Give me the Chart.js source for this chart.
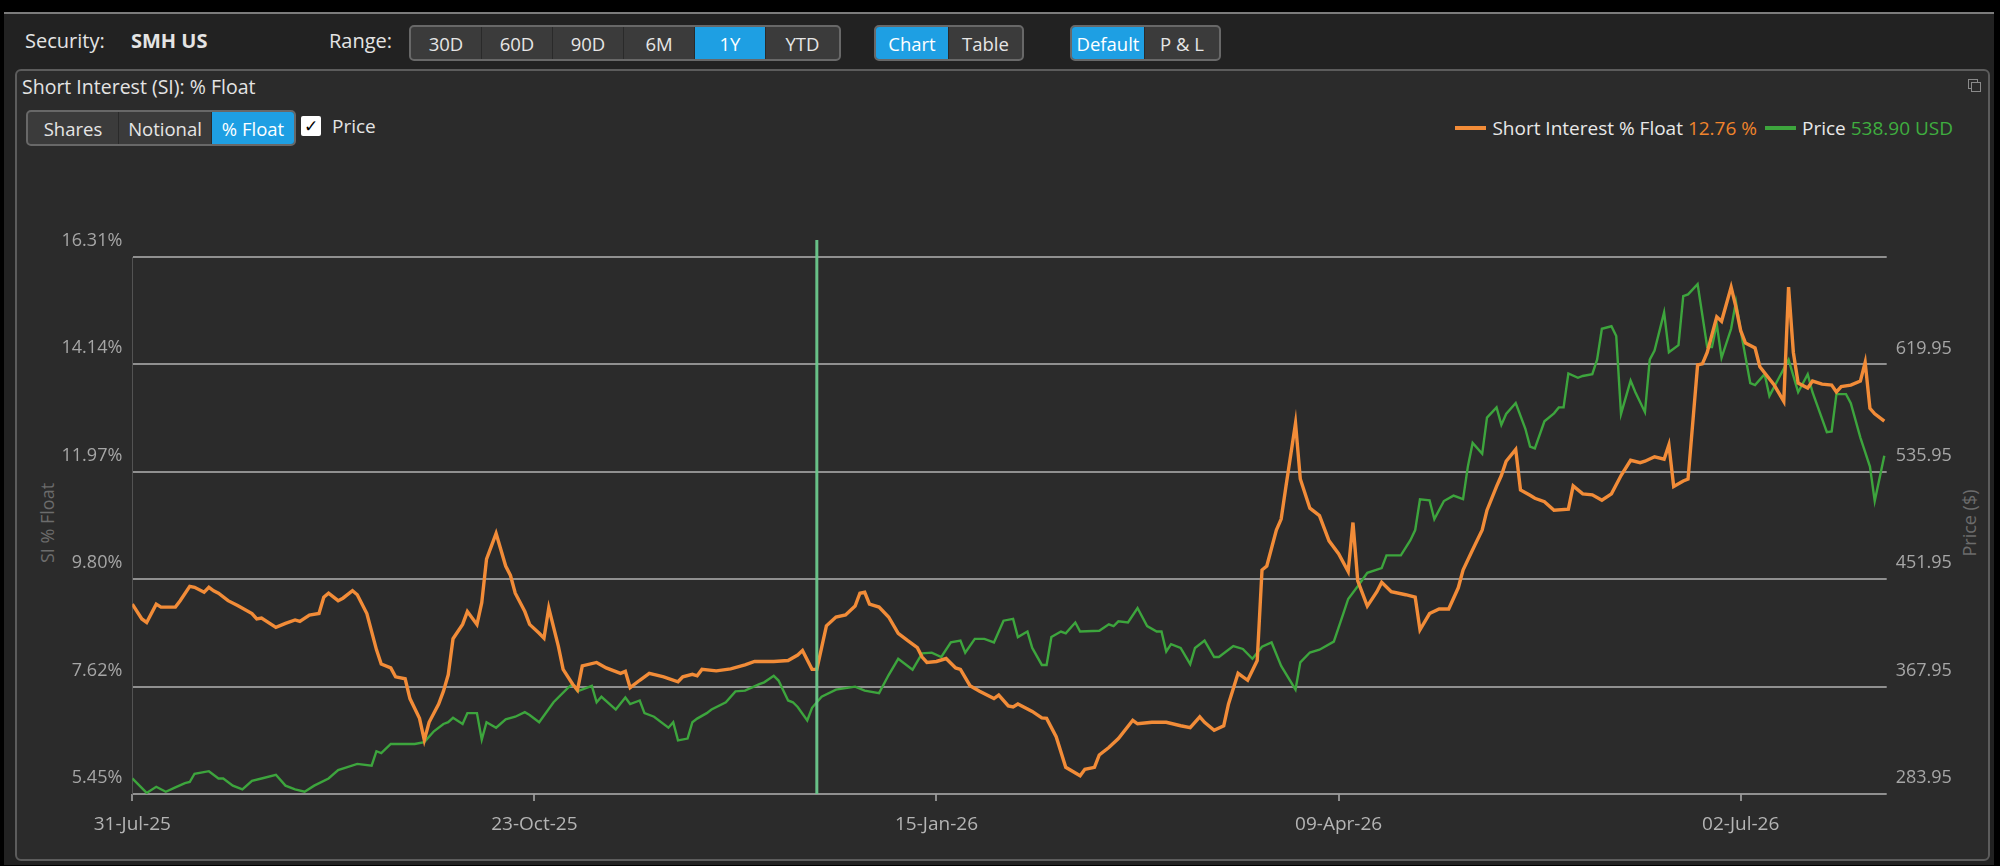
<!DOCTYPE html>
<html>
<head>
<meta charset="utf-8">
<script src="https://cdn.jsdelivr.net/npm/chart.js@4.4.1/dist/chart.umd.min.js"></script>
<style>
  html, body { margin: 0; padding: 0; width: 2000px; height: 866px; overflow: hidden; background: #000; font-family: 'Open Sans', 'Noto Sans', sans-serif; }
  .abs { position: absolute; }
  #app { left: 4px; top: 12px; width: 1990px; height: 851px; background: #222; border-top: 2px solid #7c7c7c; }
  .lbl { color: #e4e4e4; font-size: 20px; line-height: 26px; white-space: nowrap; }
  .grp { display: flex; height: 32px; border: 2px solid #686868; border-radius: 5px; overflow: hidden; background: #3b3b3b; }
  .grp div { display: flex; align-items: center; justify-content: center; color: #e6e6e6; font-size: 18.5px; border-right: 1px solid #2a2a2a; box-sizing: border-box; }
  .grp div:last-child { border-right: none; }
  .grp div.on { background: #1e9fe3; color: #fff; }
  #panel { left: 15px; top: 69px; width: 1971px; height: 788px; border: 2px solid #5c5c5c; border-radius: 6px; background: #2b2b2b; }
  #chartBox { left: 16px; top: 150px; width: 1972px; height: 705px; }
  #legend { right: 47px; top: 115px; display: flex; align-items: center; font-size: 19px; color: #e8e8e8; white-space: nowrap; }
  #legend .sw { width: 31px; height: 4px; margin-right: 6px; }
  .axTitle { color: #6c6c6c; font-size: 18px; white-space: nowrap; transform: translate(-50%, -50%) rotate(-90deg); }
</style>
</head>
<body>
<div id="app" class="abs"></div>

<div class="abs lbl" style="left:25px; top:28px;">Security:</div>
<div class="abs lbl" style="left:131px; top:28px; font-weight:bold;">SMH US</div>
<div class="abs lbl" style="left:329px; top:28px;">Range:</div>

<div class="abs grp" style="left:409px; top:25px; width:428px;">
  <div style="width:71px">30D</div><div style="width:71px">60D</div><div style="width:71px">90D</div>
  <div style="width:71px">6M</div><div class="on" style="width:71px">1Y</div><div style="width:73px">YTD</div>
</div>
<div class="abs grp" style="left:874px; top:25px; width:146px;">
  <div class="on" style="width:73px">Chart</div><div style="width:73px">Table</div>
</div>
<div class="abs grp" style="left:1070px; top:25px; width:147px;">
  <div class="on" style="width:73px">Default</div><div style="width:74px">P &amp; L</div>
</div>

<div id="panel" class="abs"></div>
<div class="abs lbl" style="left:22px; top:74px; font-size:19.5px;">Short Interest (SI): % Float</div>
<div class="abs grp" style="left:26px; top:110px; width:266px;">
  <div style="width:91px">Shares</div><div style="width:93px">Notional</div><div class="on" style="width:82px">% Float</div>
</div>
<div class="abs" style="left:301px; top:116px; width:20px; height:20px; background:#fff; border-radius:2px; color:#000; font:bold 17px 'DejaVu Sans'; line-height:20px; text-align:center;">✓</div>
<div class="abs lbl" style="left:332px; top:113px; font-size:19px;">Price</div>

<div class="abs" style="left:1968px; top:79px; width:8px; height:8px; border:1.5px solid #8a8a8a;"></div>
<div class="abs" style="left:1971px; top:82px; width:8px; height:8px; border:1.5px solid #8a8a8a; background:#2b2b2b;"></div>

<div id="legend" class="abs">
  <span class="sw" style="background:#f28c38"></span><span>Short Interest % Float&nbsp;</span><span style="color:#f0842c">12.76 %</span>
  <span class="sw" style="background:#3da53d; margin-left:8px"></span><span>Price&nbsp;</span><span style="color:#3fae3f">538.90 USD</span>
</div>

<div class="abs axTitle" style="left:47px; top:523px;">SI % Float</div>
<div class="abs axTitle" style="left:1969px; top:523px;">Price ($)</div>

<div id="chartBox" class="abs"><canvas id="siChart"></canvas></div>

<script>
// days counted from 31-Jul-25
const startDate = Date.UTC(2025, 6, 31);

const siDays = [0, 2, 3, 5, 6, 9, 10, 12, 13, 15, 16, 17, 18, 20, 22, 25, 26, 27, 30, 32, 34, 35, 37, 39, 40, 41, 43, 44, 46, 47, 49,
  51, 52, 54, 55, 57, 58, 60, 61, 62, 64, 65, 66, 67, 69, 70, 72, 73, 74, 76, 78, 79, 80, 82, 83, 85, 86, 87, 89, 90, 92, 93, 94, 97, 99,
  102, 103, 104, 106, 108, 111, 114, 115, 117, 118, 119, 122, 125, 128, 130, 134, 137, 139, 140, 142, 143, 144, 145, 147, 149,
  151, 152, 153, 154, 156, 158, 160, 162, 164, 165, 166, 168, 170, 172, 173, 175, 177, 180, 181, 183, 184, 185, 188, 190, 191, 193, 195, 198, 199,
  201, 202, 204, 206, 209, 210, 213, 216, 219, 221, 223, 224, 226, 228, 229, 231, 233, 235, 236, 237, 239, 240, 241, 243, 244, 246, 248, 250,
  252, 254, 255, 256, 258, 260, 261, 263, 266, 268, 269, 271, 273, 275, 277, 278, 280, 282, 283, 285, 286, 287, 289, 290, 292, 293, 295, 297,
  300, 301, 303, 305, 307, 309, 311, 313, 315, 316, 318, 320, 321, 322, 324, 325, 327, 328, 329, 331, 332, 334, 335, 336, 337, 339, 340, 343, 345, 346, 347, 348,
  350, 351, 353, 355, 356, 357, 359, 361, 362, 363, 364, 366];
const siValues = [9.29, 8.99, 8.92, 9.29, 9.23, 9.23, 9.36, 9.65, 9.63, 9.53, 9.63, 9.56, 9.51, 9.36, 9.26, 9.10, 8.99, 9.01, 8.82, 8.90, 8.97, 8.94, 9.07, 9.10, 9.43, 9.51, 9.36, 9.41, 9.56, 9.48, 9.10,
  8.37, 8.08, 8.00, 7.82, 7.78, 7.38, 6.98, 6.54, 6.90, 7.27, 7.53, 7.86, 8.59, 8.88, 9.14, 8.88, 9.32, 10.20, 10.72, 10.06, 9.87, 9.51, 9.14, 8.88, 8.70, 8.60, 9.21, 8.44, 7.97, 7.67, 7.55, 8.04, 8.11, 8.00,
  7.89, 7.93, 7.60, 7.75, 7.89, 7.82, 7.72, 7.82, 7.87, 7.84, 7.97, 7.94, 7.98, 8.06, 8.13, 8.13, 8.15, 8.26, 8.35, 7.97, 7.97, 8.41, 8.85, 9.03, 9.07,
  9.25, 9.51, 9.53, 9.29, 9.23, 9.03, 8.70, 8.55, 8.41, 8.22, 8.11, 8.13, 8.19, 8.00, 7.97, 7.64, 7.53, 7.38, 7.45, 7.23, 7.21, 7.27, 7.12, 6.99, 6.98, 6.61, 5.99, 5.82, 5.95,
  5.99, 6.24, 6.39, 6.57, 6.94, 6.87, 6.90, 6.90, 6.83, 6.79, 7.01, 6.90, 6.74, 6.83, 7.27, 7.89, 7.75, 8.15, 9.98, 10.06, 10.79, 11.01, 11.67, 12.95, 11.82, 11.23, 11.08, 10.57,
  10.31, 9.95, 10.94, 9.76, 9.25, 9.54, 9.73, 9.54, 9.48, 9.43, 8.77, 9.10, 9.19, 9.19, 9.62, 9.98, 10.39, 10.79, 11.19, 11.67, 11.89, 12.18, 12.42, 11.60, 11.49, 11.43, 11.36, 11.19,
  11.21, 11.68, 11.52, 11.50, 11.39, 11.52, 11.89, 12.20, 12.15, 12.18, 12.27, 12.22, 12.51, 11.67, 11.78, 11.82, 14.13, 14.15, 14.38, 15.10, 15.01, 15.70, 15.30, 14.82, 14.57, 14.47, 14.09, 13.72, 13.39, 15.70, 14.38, 13.76,
  13.66, 13.80, 13.74, 13.72, 13.58, 13.69, 13.72, 13.80, 14.18, 13.25, 13.14, 12.99];

const priceDays = [0, 3, 5, 7, 9, 11, 12, 13, 16, 18, 19, 21, 23, 25, 27, 30, 32, 34, 36, 38, 41, 43, 47, 50, 51, 52, 54, 57, 59, 61, 63, 65, 66, 67, 69, 70,
  72, 73, 74, 76, 78, 80, 82, 83, 85, 88, 91, 92, 93, 96, 97, 98, 101, 103, 104, 106, 107, 109, 112, 113, 114, 116, 117, 118, 120, 121, 124, 126, 128,
  131, 132, 134, 135, 137, 138, 139, 141, 142, 144, 147, 151, 153, 156, 158, 160, 163, 165, 167, 169, 171, 173, 174, 176, 178, 180, 182, 184, 185, 187, 188,
  190, 191, 192, 194, 195, 197, 198, 202, 204, 205, 206, 208, 210, 212, 214, 215, 216, 217, 219, 221, 222, 224, 226, 227, 230, 232, 234, 236, 238, 240,
  243, 244, 246, 248, 251, 253, 254, 256, 258, 261, 262, 265, 267, 268, 269, 271, 272, 274, 276, 278, 279, 280, 282, 283, 285, 286, 287, 289,
  291, 292, 293, 295, 297, 298, 299, 300, 302, 303, 305, 306, 307, 309, 310, 311, 313, 314, 316, 317, 318, 320, 321, 323, 324, 325, 327, 329,
  330, 331, 332, 334, 335, 336, 338, 339, 341, 342, 344, 346, 348, 350, 351, 354, 355, 356, 358, 359, 361, 363, 364, 366];
const priceValues = [296.1, 284.8, 289.6, 285.7, 289.1, 292.5, 293.3, 299.8, 301.8, 296.1, 296.1, 290.5, 287.6, 294.2, 296.1, 299.0, 290.5, 287.6, 285.7, 290.5, 296.1, 302.7, 307.5, 306.1, 317.4, 316.0, 323.1, 323.1, 323.1, 324.5, 333.0, 338.7, 340.1, 343.5, 338.7, 347.2,
  347.2, 326.5, 340.1, 335.8, 342.4, 344.4, 348.0, 345.8, 340.1, 355.7, 367.0, 369.9, 364.2, 368.5, 355.7, 360.0, 350.0, 359.4, 354.3, 357.1, 347.2, 344.4, 335.8, 340.1, 325.9, 327.3, 340.1, 342.9, 347.2, 350.0, 355.7, 364.2, 364.8,
  369.9, 371.3, 376.4, 372.7, 357.1, 355.7, 352.0, 341.5, 351.4, 360.0, 365.6, 367.9, 364.8, 362.8, 377.0, 389.7, 381.2, 394.0, 394.5, 391.1, 402.5, 403.9, 394.5, 405.3, 405.3, 402.5, 419.5, 420.9, 406.7, 411.0, 398.2,
  384.9, 384.9, 406.7, 411.0, 409.6, 418.1, 411.0, 411.6, 416.7, 415.3, 419.0, 418.1, 429.4, 415.3, 411.0, 411.0, 395.4, 401.1, 398.2, 385.5, 398.2, 403.9, 391.1, 391.1, 399.7, 397.4, 389.7, 399.1, 402.5, 384.1,
  365.6, 386.9, 394.6, 396.8, 403.1, 425.2, 436.5, 446.4, 456.9, 460.6, 470.6, 470.6, 482.5, 490.4, 514.5, 513.7, 498.9, 513.1, 517.3, 514.5, 540.0, 558.5, 550.0, 578.3, 586.3, 572.6, 581.2, 589.7,
  569.8, 555.6, 554.2, 575.5, 581.7, 586.3, 586.3, 612.9, 609.5, 610.9, 612.3, 623.7, 647.8, 649.8, 642.1, 581.2, 607.3, 598.2, 582.6, 623.7, 630.8, 660.6, 629.4, 635.0, 673.3, 674.7, 682.7, 633.6,
  633.6, 651.5, 625.1, 647.8, 669.1, 646.4, 605.3, 603.8, 612.3, 595.3, 609.5, 623.7, 598.2, 612.3, 598.2, 567.0, 567.5, 596.7, 596.7, 589.7, 562.7, 540.0, 513.1, 548.5];

const xTickDays = [0, 84, 168, 252, 336];
const siTicks = [5.45, 7.62, 9.80, 11.97, 14.14, 16.31];
const priceTicks = [283.95, 367.95, 451.95, 535.95, 619.95, 703.95];
const cursorDay = 143;

const months = ['Jan', 'Feb', 'Mar', 'Apr', 'May', 'Jun', 'Jul', 'Aug', 'Sep', 'Oct', 'Nov', 'Dec'];

function formatDay(v) {
    const d = new Date(startDate + v * 86400000);
    const dd = String(d.getUTCDate()).padStart(2, '0');
    const yy = String(d.getUTCFullYear()).slice(2);
    return dd + '-' + months[d.getUTCMonth()] + '-' + yy;
}

function toPoints(xs, ys) {
    return xs.map((x, i) => ({ x: x, y: ys[i] }));
}

// vertical cursor line
const cursorPlugin = {
    id: 'cursorLine',
    afterDatasetsDraw(chart) {
        const ctx = chart.ctx;
        const area = chart.chartArea;
        const x = chart.scales.x.getPixelForValue(cursorDay);
        ctx.save();
        ctx.strokeStyle = 'rgba(108, 200, 140, 0.95)';
        ctx.lineWidth = 3;
        ctx.beginPath();
        ctx.moveTo(x, area.top - 17);
        ctx.lineTo(x, area.bottom);
        ctx.stroke();
        ctx.restore();
    }
};

const tickFont = { family: "'Open Sans', sans-serif", size: 18 };

new Chart(document.getElementById('siChart').getContext('2d'), {
    type: 'line',
    data: {
        datasets: [{
            label: 'Short Interest % Float',
            data: toPoints(siDays, siValues),
            yAxisID: 'ySI',
            borderColor: '#f28c38',
            borderWidth: 3.4,
            pointRadius: 0,
            tension: 0
        }, {
            label: 'Price',
            data: toPoints(priceDays, priceValues),
            yAxisID: 'yPrice',
            borderColor: '#3da53d',
            borderWidth: 2.4,
            pointRadius: 0,
            tension: 0
        }]
    },
    options: {
        responsive: true,
        maintainAspectRatio: false,
        animation: false,
        layout: { padding: { top: 107, left: 0, right: 0, bottom: 0 } },
        plugins: {
            legend: { display: false },
            tooltip: { enabled: false }
        },
        scales: {
            x: {
                type: 'linear',
                min: 0,
                max: 366.5,
                afterBuildTicks: s => { s.ticks = xTickDays.map(v => ({ value: v })); },
                afterFit: s => { s.height = 61; },
                ticks: {
                    callback: v => formatDay(v),
                    color: '#b4b4b4',
                    font: { family: "'Open Sans', sans-serif", size: 19 },
                    padding: 12,
                    maxRotation: 0,
                    autoSkip: false
                },
                grid: { drawOnChartArea: false, drawTicks: true, tickLength: 7, color: '#8c8c8c', lineWidth: 2 },
                border: { display: false }
            },
            ySI: {
                position: 'left',
                min: siTicks[0],
                max: siTicks[siTicks.length - 1],
                afterBuildTicks: s => { s.ticks = siTicks.map(v => ({ value: v })); },
                afterFit: s => { s.width = 116.3; },
                ticks: {
                    callback: v => v.toFixed(2) + '%',
                    color: '#a6a6a6',
                    font: tickFont,
                    padding: 10,
                    labelOffset: -16
                },
                grid: { color: 'rgba(155, 155, 155, 0.9)', lineWidth: 2, drawTicks: false },
                border: { display: true, color: 'rgba(110, 110, 110, 0.6)', width: 1 }
            },
            yPrice: {
                position: 'right',
                min: priceTicks[0],
                max: priceTicks[priceTicks.length - 1],
                afterBuildTicks: s => { s.ticks = priceTicks.map(v => ({ value: v })); },
                afterFit: s => { s.width = 101.3; },
                ticks: {
                    callback: (v, i) => i === priceTicks.length - 1 ? '' : v.toFixed(2),
                    color: '#a6a6a6',
                    font: tickFont,
                    padding: 9,
                    labelOffset: -16
                },
                grid: { drawOnChartArea: false, drawTicks: false },
                border: { display: false }
            }
        }
    },
    plugins: [cursorPlugin]
});
</script>
</body>
</html>
